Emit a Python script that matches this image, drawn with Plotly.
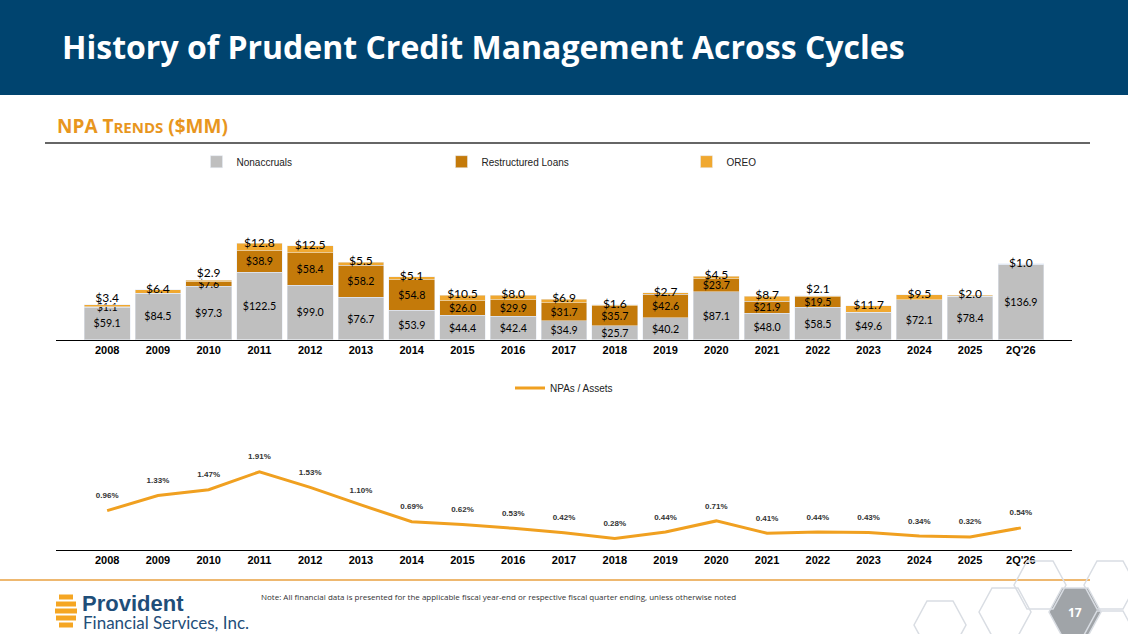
import plotly.graph_objects as go

years = ["2008","2009","2010","2011","2012","2013","2014","2015","2016","2017","2018","2019","2020","2021","2022","2023","2024","2025","2Q'26"]
nonaccruals = [59.1,84.5,97.3,122.5,99.0,76.7,53.9,44.4,42.4,34.9,25.7,40.2,87.1,48.0,58.5,49.6,72.1,78.4,136.9]
restructured = [1.1,0,7.6,38.9,58.4,58.2,54.8,26.0,29.9,31.7,35.7,42.6,23.7,21.9,19.5,0,0,0,0]
oreo = [3.4,6.4,2.9,12.8,12.5,5.5,5.1,10.5,8.0,6.9,1.6,2.7,4.5,8.7,2.1,11.7,9.5,2.0,1.0]
npa_ratio = [0.96,1.33,1.47,1.91,1.53,1.10,0.69,0.62,0.53,0.42,0.28,0.44,0.71,0.41,0.44,0.43,0.34,0.32,0.54]

GREY = "#bfbfbf"; DORANGE = "#c47a0a"; ORANGE = "#f0a830"; NAVY = "#00446f"
FONT = "Open Sans"
totals = [a+b+c for a, b, c in zip(nonaccruals, restructured, oreo)]
above = {"2008", "2010", "2022"}
lblfont = dict(size=12, color="black", family="Lato")

fig = go.Figure()
fig.add_bar(x=years, y=nonaccruals, name="Nonaccruals", marker_color=GREY,
            text=[f"${v:.1f}" for v in nonaccruals], textposition="inside", insidetextanchor="middle",
            textfont=lblfont, legend="legend")
fig.add_bar(x=years, y=restructured, name="Restructured Loans", marker_color=DORANGE,
            text=[f"${v:.1f}" if v else "" for v in restructured], textposition="inside",
            insidetextanchor="middle", textfont=lblfont, legend="legend")
fig.add_bar(x=years, y=oreo, name="OREO", marker_color=ORANGE, legend="legend")
fig.add_scatter(x=years, y=totals, mode="text", showlegend=False,
                text=[f"${v:.1f}" for v in oreo],
                textposition=["top center" if y in above else "middle center" for y in years],
                textfont=lblfont, cliponaxis=False)
fig.add_scatter(x=years, y=npa_ratio, xaxis="x2", yaxis="y2", mode="lines",
                name="NPAs / Assets", line=dict(color="#f0a020", width=3), legend="legend2")
fig.add_scatter(x=years, y=npa_ratio, xaxis="x2", yaxis="y2", mode="text", showlegend=False,
                text=[f"<b>{v:.2f}%</b><br> " for v in npa_ratio], textposition="top center",
                textfont=dict(size=8, color="#333", family="Liberation Sans"), cliponaxis=False)

axfont = dict(size=11, color="black", family="Liberation Sans")
fig.update_layout(
    width=1128, height=634, margin=dict(l=0, r=0, t=0, b=0),
    paper_bgcolor="white", plot_bgcolor="white", barmode="stack", bargap=0.1,
    uniformtext=dict(mode="show", minsize=10),
    font=dict(family=FONT),
    xaxis=dict(domain=[0.05, 0.95], showline=True, linecolor="black", linewidth=1,
               tickfont=axfont, ticks="", anchor="y", tickprefix="<b>", ticksuffix="</b>"),
    yaxis=dict(domain=[0.464, 0.621], range=[0, 180], visible=False),
    xaxis2=dict(domain=[0.05, 0.95], showline=True, linecolor="black", linewidth=1,
                tickfont=axfont, ticks="", anchor="y2", tickprefix="<b>", ticksuffix="</b>"),
    yaxis2=dict(domain=[0.1325, 0.274], range=[0, 2.19], visible=False),
    legend=dict(orientation="h", x=0.5, xanchor="center", y=0.745, yanchor="middle",
                font=dict(size=10, family="Liberation Sans", color="#222"), entrywidth=200,
                traceorder="normal", itemwidth=30),
    legend2=dict(orientation="h", x=0.5, xanchor="center", y=0.388, yanchor="middle",
                 font=dict(size=10, family="Liberation Sans", color="#222")),
    shapes=[
        dict(type="rect", xref="paper", yref="paper", x0=0, x1=1, y0=1-95/634, y1=1,
             fillcolor=NAVY, line_width=0, layer="below"),
        dict(type="line", xref="paper", yref="paper", x0=45/1128, x1=1090/1128,
             y0=1-143/634, y1=1-143/634, line=dict(color="#333", width=1.5)),
        dict(type="line", xref="paper", yref="paper", x0=0, x1=1090/1128,
             y0=1-580/634, y1=1-580/634, line=dict(color="#e8a040", width=1.5)),
    ] + [
        dict(type="path", xref="paper", yref="paper",
             path=f"M {x-w/2},{y} L {x-w/4},{y+h/2} L {x+w/4},{y+h/2} L {x+w/2},{y} L {x+w/4},{y-h/2} L {x-w/4},{y-h/2} Z",
             line=dict(color="#d9dde3", width=1.5), fillcolor=fc)
        for x, y, w, h, fc in [
            (1075/1128, 1-612/634, 52/1128, 48/634, "#a0a4a8"),
            (1110/1128, 1-585/634, 52/1128, 48/634, "rgba(0,0,0,0)"),
            (1040/1128, 1-585/634, 52/1128, 48/634, "rgba(0,0,0,0)"),
            (1005/1128, 1-612/634, 52/1128, 48/634, "rgba(0,0,0,0)"),
            (940/1128, 1-625/634, 52/1128, 48/634, "rgba(0,0,0,0)"),
            (1110/1128, 1-635/634, 52/1128, 48/634, "rgba(0,0,0,0)"),
        ]
    ] + [
        dict(type="rect", xref="paper", yref="paper", x0=(66 - w)/1128, x1=(66 + w)/1128,
             y0=1-(yy+2.5)/634, y1=1-(yy-2.5)/634, fillcolor="#f5a623", line_width=0)
        for yy, w in [(597, 7), (604, 10), (611, 11), (618, 10), (625, 7)]
    ],
    annotations=[
        dict(text="<b>History of Prudent Credit Management Across Cycles</b>", xref="paper", yref="paper",
             x=60/1128, y=1-47/634, xanchor="left", yanchor="middle", showarrow=False,
             font=dict(size=32, color="white", family=FONT)),
        dict(text="<b>NPA T<span style='font-size:15px'>RENDS</span> ($MM)</b>", xref="paper", yref="paper",
             x=55/1128, y=1-126/634, xanchor="left", yanchor="middle", showarrow=False,
             font=dict(size=19, color="#e8961e", family=FONT)),
        dict(text="Note: All financial data is presented for the applicable fiscal year-end or respective fiscal quarter ending, unless otherwise noted",
             xref="paper", yref="paper", x=259/1128, y=1-596/634, xanchor="left", yanchor="middle",
             showarrow=False, font=dict(size=8, color="#333", family=FONT)),
        dict(text="<b>Provident</b>", xref="paper", yref="paper", x=80/1128, y=1-603/634,
             xanchor="left", yanchor="middle", showarrow=False,
             font=dict(size=22, color="#1f4e79", family="Liberation Sans")),
        dict(text="Financial Services, Inc.", xref="paper", yref="paper", x=81/1128, y=1-622/634,
             xanchor="left", yanchor="middle", showarrow=False,
             font=dict(size=17, color="#1f4e79", family="Lato")),
        dict(text="<b>17</b>", xref="paper", yref="paper", x=1075/1128, y=1-612/634,
             xanchor="center", yanchor="middle", showarrow=False,
             font=dict(size=12, color="white", family=FONT)),
    ],
)
fig.write_html("out.html", config={"displayModeBar": False},
               post_script="document.body.style.margin='0';document.body.style.overflow='hidden';")
